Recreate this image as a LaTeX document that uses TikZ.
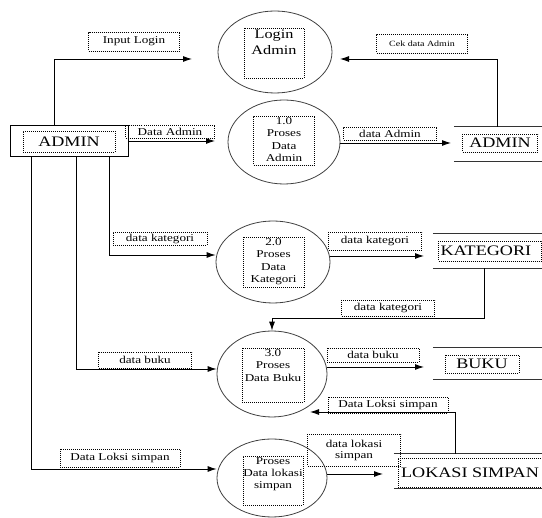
\documentclass[tikz,border=0pt]{standalone}
\usepackage{fontspec}
\setmainfont[FakeStretch=1.25]{Liberation Serif}
\usetikzlibrary{shapes.geometric,arrows.meta}

\begin{document}
\begin{tikzpicture}[x=1pt, y=-1pt,
        proc/.style={draw=black!75, line width=0.8pt, ellipse, inner sep=0pt},
        pbox/.style={draw, dash pattern=on 1pt off 1pt, line width=0.5pt, inner sep=0pt},
        ptext/.style={anchor=north, align=center, inner sep=1.5pt, font=\fontsize{10.5}{12.3}\selectfont},
        lbl/.style={draw, dash pattern=on 1pt off 1pt, line width=0.5pt, inner sep=0pt, align=center, font=\fontsize{10.5}{11}\selectfont},
        big/.style={font=\fontsize{14.5}{16}\selectfont},
        store/.style={inner sep=0pt},
        flow/.style={line width=0.9pt, -{Latex[length=9pt,width=6pt]}}]
        \useasboundingbox (0,0) rectangle (542,518);

        \node[draw, line width=0.9pt, minimum width=118pt, minimum height=31pt] (admin) at (69,140.5) {};
        \node[pbox, big, minimum width=92pt, minimum height=21pt] (tadmin) at (69,141.5) {ADMIN};

        \node[proc, minimum width=114pt, minimum height=82pt] (p0) at (275,52) {};
        \node[pbox, minimum width=60pt, minimum height=50pt] (b0) at (274,53) {};
        \node[ptext, font=\fontsize{13}{16}\selectfont] (t0) at (b0.north) {Login\\Admin};

        \node[proc, minimum width=112pt, minimum height=84pt] (p1) at (284,142) {};
        \node[pbox, minimum width=61pt, minimum height=49pt] (b1) at (284,140.5) {};
        \node[ptext] (t1) at (b1.north) {1.0\\Proses\\Data\\Admin};

        \node[proc, minimum width=114pt, minimum height=82pt] (p2) at (273,262) {};
        \node[pbox, minimum width=61pt, minimum height=50pt] (b2) at (273.5,262) {};
        \node[ptext] (t2) at (b2.north) {2.0\\Proses\\Data\\Kategori};

        \node[proc, minimum width=110pt, minimum height=86pt] (p3) at (272,374) {};
        \node[pbox, minimum width=62pt, minimum height=54pt] (b3) at (273,375) {};
        \node[ptext] (t3) at (b3.north) {3.0\\Proses\\Data Buku};

        \node[proc, minimum width=110pt, minimum height=78pt] (p4) at (272,478) {};
        \node[pbox, minimum width=60pt, minimum height=49pt] (b4) at (273,480.5) {};
        \node[ptext] (t4) at (b4.north) {Proses\\Data lokasi\\simpan};

        \node[store, minimum width=88pt, minimum height=34pt] (sadmin) at (498,144) {};
        \node[pbox, big, minimum width=75pt, minimum height=18pt] (tsadmin) at (500,143) {ADMIN};
        \node[store, minimum width=109pt, minimum height=34pt] (skat) at (487.5,251) {};
        \node[pbox, big, minimum width=103pt, minimum height=20pt, text width=99pt, align=left] (tskat) at (490,251) {KATEGORI};
        \node[store, minimum width=109pt, minimum height=31pt] (sbuku) at (487.5,363.5) {};
        \node[pbox, big, minimum width=74pt, minimum height=18pt] (tsbuku) at (482,364) {BUKU};
        \node[store, minimum width=148pt, minimum height=34pt] (slok) at (468,471) {};
        \node[pbox, big, minimum width=144pt, minimum height=29pt] (tslok) at (470,473) {LOKASI SIMPAN};
        \foreach \s in {sadmin,skat,sbuku,slok}
          \draw[line width=0.9pt, black!80] (\s.north west) -- (\s.north east) (\s.south west) -- (\s.south east);

        \node[lbl, minimum width=91pt, minimum height=19pt] (linput) at (134,41.5) {Input Login};
        \node[lbl, minimum width=89pt, minimum height=13pt] (ldata1) at (170,131.5) {Data Admin};
        \node[lbl, minimum width=91pt, minimum height=19pt, font=\fontsize{8}{10}\selectfont] (lcek) at (422,44) {Cek data Admin};
        \node[lbl, minimum width=93pt, minimum height=13pt] (ldata2) at (390,133.5) {data Admin};
        \node[lbl, minimum width=94pt, minimum height=13pt] (lkat1) at (160,238.5) {data kategori};
        \node[lbl, minimum width=93pt, minimum height=18pt] (lkat2) at (375,241) {data kategori};
        \node[lbl, minimum width=93pt, minimum height=16pt] (lkat3) at (388,308) {data kategori};
        \node[lbl, minimum width=93pt, minimum height=16pt] (lbuku1) at (145,360) {data buku};
        \node[lbl, minimum width=92pt, minimum height=14pt] (lbuku2) at (373,355) {data buku};
        \node[lbl, minimum width=120pt, minimum height=18pt] (llok1) at (120,458) {Data Loksi simpan};
        \node[lbl, minimum width=120pt, minimum height=16pt] (llok2) at (388,405) {Data Loksi simpan};
        \node[lbl, minimum width=93pt, minimum height=32pt] (llok3) at (354,450) {data lokasi\\simpan};

        \coordinate (e0) at (192,59);
        \coordinate (e1) at (215,141);
        \coordinate (e2) at (340,59);
        \coordinate (e3) at (451,143);
        \coordinate (e4) at (424,256);
        \coordinate (e5) at (424,367);
        \coordinate (e6) at (310,412);
        \coordinate (e7) at (383,474);

        \draw[flow] (admin.north -| 54,0) |- (e0);
        \draw[flow] (admin.east |- e1) -- (e1);
        \draw[flow] (admin.south -| 109,0) |- (p2.west |- 0,255);
        \draw[flow] (admin.south -| 76,0) |- (p3.west |- 0,369);
        \draw[flow] (admin.south -| 31,0) |- (p4.west |- 0,469);
        \draw[flow] (sadmin.north -| 497,0) |- (e2);
        \draw[flow] (p1.east |- e3) -- (e3);
        \draw[flow] (p2.east |- e4) -- (e4);
        \draw[flow] (skat.south -| 484,0) |- (p3.north |- 0,318) -- (p3.north);
        \draw[flow] (p3.east |- e5) -- (e5);
        \draw[flow] (slok.north -| 455,0) |- (e6);
        \draw[flow] (p4.east |- e7) -- (e7);
    \end{tikzpicture}
\end{document}
